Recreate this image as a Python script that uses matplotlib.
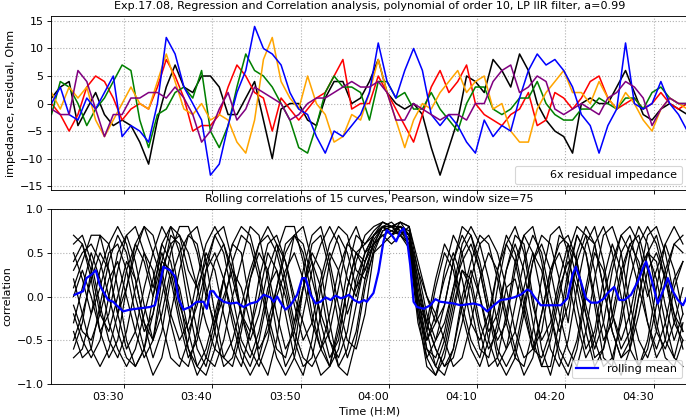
import pandas as pd
import numpy as np
import matplotlib
matplotlib.use('Agg')
import matplotlib.pyplot as plt
import matplotlib.dates as mdates
from matplotlib.lines import Line2D

# residual impedance, one value per minute, starting 03:21:48 (Ohm)
blue = [0, 3, -2, -3, 1, -1, 2, 5, -6, -4, -5, -7, 0, 12, 9, 3, 0, -3, -13,
        -11, -4, 2, 6, 14, 10, 9, 7, 2, -1, -2, -6, -9, -5, -6, -4, -2,
        2, 11, 4, 1, 6, 10, 6, -2, -4, -2, -4, -7, -9, -3, -6, -4, -5, 1,
        6, 9, 7, 8, 6, 3, -2, -4, -9, -4, -1, 11, 0, -1, 0, 4, 0, -2, -5]
black = [1, 3, 4, -4, -1, 2, -2, -4, -3, -4, -7, -11, -3, 3, 7, 3, 2, 5, 5,
         3, -2, -2, 1, 4, -3, -10, -1, 0, 0, -3, -4, 1, 4, 4, 0, 1,
         4, 8, 2, 0, -1, 0, -2, -8, -13, -8, -3, 5, 4, 2, 8, 6, 3, 9,
         6, 0, -3, -5, -6, -9, 0, 1, 0, 0, 3, 6, 2, -2, -3, -1, 0, -1, -2]
red = [0, -2, -5, -2, 3, 5, 4, 1, -3, -1, 0, -1, 3, 8, 5, 1, -5, -4, -4,
       -2, 3, 7, 5, 2, 1, -5, 1, -1, -3, -1, 1, 2, 5, 8, -1, 0,
       0, 5, 2, -1, -4, -7, -2, 3, 6, 2, 4, 7, 0, -2, -3, -4, -2, -1,
       2, -4, -3, 2, 1, -1, 1, 4, 5, 1, -1, 0, 1, -1, 0, 2, 0, -1, 0]
green = [-2, 4, 3, 0, -4, -1, 1, 4, 7, 6, -3, -8, -2, -1, 2, 3, 1, 6, -5,
         -8, -4, 3, 9, 6, 5, 3, 0, -3, -8, -9, -4, 2, 5, 3, 3, 2,
         -3, 4, 4, 1, 2, -1, -1, 2, -1, -3, -5, 0, 3, 3, -1, -2, -1, 1,
         1, 4, 0, -2, -3, -3, -1, -1, 1, 0, -1, 1, 1, -1, 2, 3, 1, 0, 0]
orange = [2, -1, 3, 1, 3, -3, -6, -3, 0, 3, 0, -1, 4, 9, 4, -1, -2, 0, -3,
          -2, -3, -7, -9, -3, 8, 12, 4, 1, -1, 5, 0, -2, -7, -6, -2, -3,
          2, 8, 2, -3, -8, -3, 0, -1, 2, 4, 6, 2, 4, 5, -1, 0, -5, -7,
          -7, -1, 2, 4, 6, 2, 2, 0, 4, 1, -1, 2, 0, -3, -5, -1, 1, 0, -1]
purple = [-1, -2, -2, 6, 4, -1, -6, -2, -2, 1, 1, 2, 2, 1, 3, 1, -2, -7, -5,
          -1, 2, -3, -1, 3, 2, 1, 0, -3, -2, 0, 1, 1, 2, 3, 4, 3,
          3, 4, 2, -3, -3, 0, -1, -2, -3, -2, -2, -3, 0, 0, 4, 6, 7, 2,
          3, 5, 4, -1, -2, -1, 0, -1, -2, 1, 2, 4, 3, 1, -4, -1, 1, 0, 0]

# rolling correlations, one value per minute, starting 03:24:18
corr = [
    [0.7, 0.6, 0.2, -0.4, -0.7, -0.5, 0.1, 0.6, 0.8, 0.5, 0.2, -0.3, -0.7, -0.8, -0.4, 0.3, 0.7, 0.8, 0.4, -0.2, -0.6, -0.8, -0.5, 0.1, 0.6, 0.7, 0.5, 0.0, -0.5, -0.8, -0.6, -0.1, 0.4, 0.7, 0.8, 0.85, 0.8, 0.75, 0.6, -0.1, -0.6, -0.8, -0.5, 0.0, 0.5, 0.7, 0.4, -0.1, -0.6, -0.8, -0.6, -0.1, 0.4, 0.7, 0.6, 0.2, -0.3, 0.5, 0.8, 0.6, 0.1, -0.4, -0.7, -0.5, 0.0, 0.5, 0.7, 0.3, -0.2, -0.6],
    [-0.6, -0.3, 0.3, 0.7, 0.6, 0.1, -0.5, -0.8, -0.6, 0.0, 0.6, 0.8, 0.5, -0.1, -0.6, -0.8, -0.4, 0.2, 0.6, 0.5, -0.1, -0.7, -0.9, -0.5, 0.2, 0.7, 0.8, 0.4, -0.3, -0.7, -0.5, 0.1, 0.5, 0.3, 0.6, 0.8, 0.7, 0.85, 0.7, 0.0, -0.5, -0.3, 0.3, 0.7, 0.5, -0.1, -0.6, -0.7, -0.3, 0.3, 0.7, 0.6, 0.0, -0.6, -0.9, -0.5, 0.2, 0.7, 0.5, -0.1, -0.7, -0.8, -0.2, 0.5, 0.8, 0.6, 0.0, -0.5, -0.7, -0.3],
    [0.3, 0.5, 0.6, 0.4, 0.0, -0.4, -0.7, -0.8, -0.6, -0.2, 0.3, 0.6, 0.7, 0.5, 0.1, -0.3, -0.6, -0.7, -0.5, -0.1, 0.3, 0.6, 0.7, 0.5, 0.1, -0.4, -0.7, -0.8, -0.6, -0.2, 0.3, 0.6, 0.5, 0.4, 0.7, 0.8, 0.75, 0.8, 0.7, 0.2, -0.3, -0.6, -0.8, -0.7, -0.3, 0.2, 0.6, 0.7, 0.5, 0.1, -0.4, -0.7, -0.6, -0.2, 0.3, 0.6, 0.7, 0.4, -0.1, -0.5, -0.8, -0.7, -0.3, 0.2, 0.6, 0.8, 0.6, 0.2, -0.3, -0.5],
    [-0.2, -0.5, -0.7, -0.5, 0.0, 0.5, 0.7, 0.4, -0.1, -0.5, 0.2, 0.7, 0.6, 0.1, -0.4, -0.7, -0.8, -0.5, 0.0, 0.4, 0.8, 0.7, 0.2, -0.4, -0.8, -0.6, 0.1, 0.6, 0.7, 0.3, -0.3, -0.7, -0.4, 0.2, 0.65, 0.8, 0.7, 0.8, 0.75, 0.1, -0.4, 0.1, 0.5, 0.3, -0.2, -0.6, -0.8, -0.5, 0.1, 0.6, 0.8, 0.5, -0.1, -0.5, -0.3, 0.2, 0.6, 0.4, -0.2, -0.7, -0.6, 0.0, 0.5, 0.7, 0.3, -0.3, -0.7, -0.5, 0.1, 0.4],
    [0.5, 0.2, -0.2, 0.1, 0.5, 0.6, 0.3, -0.2, -0.6, -0.9, -0.7, -0.2, 0.3, 0.7, 0.8, 0.4, -0.2, -0.7, -0.8, -0.4, 0.2, 0.5, 0.3, -0.2, -0.6, -0.4, 0.1, 0.5, 0.3, -0.3, -0.8, -0.9, -0.5, 0.1, 0.55, 0.75, 0.8, 0.7, 0.6, -0.2, -0.8, -0.9, -0.6, -0.1, 0.3, 0.1, -0.4, -0.8, -0.7, -0.2, 0.4, 0.7, 0.5, 0.0, -0.6, -0.8, -0.5, 0.1, 0.6, 0.8, 0.4, -0.2, -0.5, -0.2, 0.3, 0.5, 0.2, -0.3, -0.7, -0.8],
    [-0.7, -0.6, -0.2, 0.3, 0.6, 0.8, 0.6, 0.2, -0.3, -0.5, -0.2, 0.3, 0.1, -0.4, -0.8, -0.9, -0.6, -0.1, 0.4, 0.7, 0.6, 0.2, -0.3, -0.7, -0.9, -0.7, -0.2, 0.3, 0.6, 0.8, 0.6, 0.2, 0.0, 0.4, 0.7, 0.85, 0.8, 0.8, 0.65, -0.1, -0.3, -0.6, -0.8, -0.6, 0.0, 0.4, 0.7, 0.6, 0.2, -0.3, -0.7, -0.8, -0.4, 0.2, 0.7, 0.8, 0.5, -0.1, -0.6, -0.4, 0.2, 0.6, 0.3, -0.3, -0.8, -0.6, -0.1, 0.3, 0.6, 0.7],
    [0.1, 0.4, 0.7, 0.7, 0.3, -0.2, -0.6, -0.4, 0.1, 0.5, 0.8, 0.6, 0.0, -0.6, -0.8, -0.6, -0.2, 0.2, -0.2, -0.6, -0.8, -0.5, 0.0, 0.5, 0.8, 0.8, 0.4, -0.2, -0.6, -0.8, -0.4, 0.1, 0.5, 0.6, 0.7, 0.8, 0.85, 0.75, 0.7, 0.3, -0.2, -0.5, -0.3, 0.1, 0.4, 0.6, 0.3, -0.2, -0.7, -0.9, -0.7, -0.2, 0.4, 0.6, 0.3, -0.2, -0.6, -0.8, -0.4, 0.2, 0.7, 0.8, 0.5, -0.1, -0.5, -0.7, -0.4, 0.2, 0.6, 0.5],
    [-0.4, -0.7, -0.6, -0.1, 0.4, 0.7, 0.5, 0.0, -0.4, -0.2, 0.4, 0.8, 0.7, 0.3, 0.1, 0.4, 0.7, 0.5, 0.0, -0.5, -0.7, -0.4, 0.1, 0.3, 0.0, -0.5, -0.8, -0.7, -0.2, 0.4, 0.7, 0.5, 0.1, 0.3, 0.6, 0.7, 0.6, 0.7, 0.8, 0.0, -0.6, -0.7, -0.4, 0.1, 0.6, 0.8, 0.6, 0.2, -0.3, -0.6, -0.4, 0.1, 0.5, 0.3, -0.2, -0.7, -0.9, -0.6, 0.0, 0.5, 0.3, -0.2, -0.6, -0.4, 0.2, 0.7, 0.8, 0.5, 0.0, -0.4],
    [0.6, 0.7, 0.4, -0.1, -0.5, -0.7, -0.4, 0.1, 0.5, 0.3, -0.3, -0.7, -0.8, -0.5, 0.0, 0.5, 0.3, -0.2, -0.6, -0.8, -0.4, 0.2, 0.6, 0.7, 0.4, 0.0, -0.3, -0.6, -0.9, -0.8, -0.3, 0.3, 0.7, 0.6, 0.75, 0.85, 0.8, 0.85, 0.8, 0.4, 0.0, -0.3, -0.1, 0.4, 0.7, 0.5, 0.0, -0.4, -0.2, 0.3, 0.6, 0.3, -0.3, -0.8, -0.8, -0.3, 0.3, 0.7, 0.5, 0.0, -0.5, -0.3, 0.2, 0.6, 0.7, 0.3, -0.3, -0.7, -0.8, -0.5],
    [-0.5, -0.2, 0.2, 0.5, 0.3, -0.2, 0.1, 0.5, 0.8, 0.7, 0.3, -0.2, -0.5, -0.3, 0.2, 0.6, 0.8, 0.6, 0.2, -0.2, -0.5, -0.2, 0.3, 0.6, 0.4, -0.1, -0.5, -0.3, 0.2, 0.6, 0.8, 0.7, 0.3, 0.2, 0.5, 0.6, 0.7, 0.8, 0.7, 0.2, -0.4, -0.8, -0.9, -0.6, -0.1, 0.3, 0.0, -0.5, -0.8, -0.6, -0.1, 0.4, 0.7, 0.5, 0.0, -0.4, -0.1, 0.4, 0.7, 0.6, 0.1, -0.4, -0.7, -0.6, -0.2, 0.3, 0.5, 0.2, -0.2, -0.4],
    [0.2, -0.2, -0.6, -0.8, -0.6, -0.2, 0.3, 0.6, 0.4, 0.0, 0.4, 0.3, -0.2, -0.6, -0.9, -0.7, -0.3, 0.2, 0.6, 0.8, 0.7, 0.3, -0.2, -0.6, -0.7, -0.3, 0.3, 0.7, 0.8, 0.4, -0.1, -0.5, -0.6, -0.2, 0.5, 0.75, 0.8, 0.7, 0.55, -0.3, -0.7, -0.5, -0.1, 0.4, 0.8, 0.7, 0.3, -0.2, -0.5, -0.3, 0.3, 0.7, 0.8, 0.4, -0.2, -0.6, -0.8, -0.5, 0.1, 0.6, 0.8, 0.5, 0.0, -0.6, -0.8, -0.5, 0.1, 0.6, 0.8, 0.6],
    [-0.3, 0.1, 0.5, 0.2, -0.3, -0.6, -0.8, -0.6, -0.2, 0.2, 0.6, 0.4, -0.1, -0.4, -0.1, 0.3, 0.5, 0.2, -0.3, -0.7, -0.9, -0.7, -0.3, 0.1, 0.5, 0.7, 0.6, 0.2, -0.2, -0.5, -0.7, -0.4, 0.2, 0.5, 0.7, 0.8, 0.8, 0.85, 0.8, 0.3, 0.0, -0.2, -0.5, -0.8, -0.7, -0.3, 0.2, 0.5, 0.3, -0.2, -0.6, -0.9, -0.7, -0.2, 0.3, 0.5, 0.2, -0.3, -0.7, -0.5, 0.0, 0.4, 0.7, 0.8, 0.6, 0.1, -0.4, -0.6, -0.3, 0.1],
    [0.4, 0.6, 0.3, -0.2, -0.4, 0.0, 0.4, 0.2, -0.3, -0.7, -0.4, 0.2, 0.5, 0.7, 0.6, 0.1, -0.4, -0.8, -0.7, -0.3, 0.2, 0.6, 0.8, 0.6, 0.2, -0.3, 0.1, 0.4, 0.1, -0.5, -0.8, -0.6, -0.1, 0.4, 0.6, 0.7, 0.75, 0.7, 0.6, 0.0, -0.3, 0.2, 0.6, 0.4, -0.1, -0.5, -0.7, -0.3, 0.3, 0.7, 0.5, 0.0, -0.5, -0.8, -0.5, 0.0, 0.5, 0.8, 0.7, 0.3, -0.3, -0.7, -0.9, -0.6, 0.0, 0.5, 0.4, -0.1, -0.5, -0.2],
    [-0.1, -0.4, -0.5, -0.2, 0.2, 0.4, 0.0, -0.4, -0.7, -0.5, 0.0, 0.5, 0.8, 0.8, 0.5, 0.0, -0.3, 0.0, 0.3, 0.1, -0.3, -0.6, -0.4, 0.0, 0.3, 0.5, 0.2, -0.3, -0.6, -0.4, 0.1, 0.6, 0.8, 0.5, 0.6, 0.8, 0.7, 0.75, 0.65, -0.2, -0.5, -0.2, 0.2, 0.5, 0.2, -0.3, -0.5, -0.2, 0.3, 0.6, 0.4, -0.1, -0.6, -0.7, -0.4, 0.1, 0.4, 0.1, -0.4, -0.8, -0.6, -0.2, 0.3, 0.6, 0.4, 0.0, 0.3, 0.6, 0.3, -0.2],
    [0.0, 0.3, 0.0, -0.4, -0.2, 0.3, 0.7, 0.8, 0.5, 0.1, 0.5, 0.2, -0.3, -0.7, -0.5, 0.0, 0.4, 0.6, 0.3, -0.2, -0.4, 0.0, 0.5, 0.3, -0.2, -0.7, -0.9, -0.5, 0.1, 0.5, 0.3, -0.2, 0.1, 0.5, 0.7, 0.8, 0.8, 0.8, 0.7, -0.1, -0.7, -0.9, -0.7, -0.2, 0.3, 0.2, -0.3, -0.6, -0.4, 0.1, 0.2, -0.2, -0.6, -0.4, 0.2, 0.7, 0.6, 0.2, -0.2, -0.6, -0.3, 0.3, 0.7, 0.5, 0.1, -0.3, -0.6, -0.3, 0.2, 0.4],
]

# rolling mean: minutes after 03:30 and value
mean_min = [-5.57, -4.62, -4.24, -3.67, -3.18, -2.73, -2.35, -1.78, -1.21, -0.83, -0.08, 0.68, 1.44,
            2.20, 2.95, 3.52, 3.90, 4.47, 5.23, 5.80, 6.17, 6.74, 7.50, 8.26, 9.02, 9.39, 9.77,
            10.15, 10.53, 11.29, 12.05, 12.80, 13.56, 14.32, 15.08, 15.83, 16.59, 16.97, 17.35,
            17.92, 18.30, 18.86, 19.62, 20.19, 20.57, 21.14, 21.70, 22.27, 22.84, 23.41, 23.98,
            24.55, 24.92, 25.49, 26.06, 26.63, 27.20, 27.50, 28.26, 28.83, 29.39, 29.77, 30.34,
            30.83, 31.29, 31.67, 32.05, 32.42, 32.80, 33.18, 33.94, 34.70, 35.27, 35.83, 36.59,
            37.35, 38.11, 38.86, 39.62, 40.38, 41.14, 41.89, 42.65, 43.41, 44.17, 44.92, 45.68,
            46.06, 46.44, 47.20, 47.95, 48.71, 49.47, 50.23, 50.80, 51.17, 51.74, 52.31, 52.88,
            53.64, 54.39, 54.77, 55.53, 56.10, 56.67, 57.42, 58.18, 58.75, 59.13, 59.70, 60.45,
            61.02, 61.59, 62.16, 62.73, 63.30, 63.67]
mean_val = [0.02, 0.06, 0.21, 0.25, 0.30, 0.13, 0.06, -0.04, -0.06, -0.10, -0.17, -0.15, -0.14,
            -0.13, -0.12, -0.10, 0.06, 0.34, 0.30, 0.23, -0.02, -0.15, -0.12, -0.06, -0.06, -0.14, 0.06,
            0.06, 0.00, -0.06, -0.08, -0.07, -0.12, -0.08, -0.06, 0.02, -0.01, -0.06, 0.00,
            -0.10, -0.15, -0.10, 0.02, 0.21, 0.21, 0.02, -0.08, -0.06, -0.01, -0.04, 0.01,
            -0.02, -0.01, 0.02, -0.04, -0.07, -0.04, -0.06, 0.04, 0.28, 0.63, 0.76, 0.70,
            0.63, 0.74, 0.78, 0.66, 0.36, -0.06, -0.12, -0.14, -0.10, -0.03, -0.06, -0.07,
            -0.08, -0.10, -0.09, -0.08, -0.10, -0.17, -0.10, -0.04, -0.03, -0.01, 0.02, 0.08,
            0.06, 0.00, -0.10, -0.10, -0.10, -0.10, -0.02, 0.25, 0.34, 0.17, -0.02, -0.07,
            -0.07, -0.02, 0.04, 0.11, -0.04, -0.04, 0.02, 0.17, 0.32, 0.40, 0.21, -0.08,
            0.06, 0.21, 0.06, -0.04, -0.10, -0.02]

series = [('black', black), ('red', red), ('green', green),
          ('orange', orange), ('blue', blue), ('purple', purple)]

start = pd.Timestamp('2021-08-17 03:21:48')
corr_start = pd.Timestamp('2021-08-17 03:24:18')
ref = pd.Timestamp('2021-08-17 03:30:00')
end = start + pd.Timedelta(minutes=72)

# drawn at 80 dpi so the default sizes match the original
fig = plt.figure(figsize=(8.575, 5.225), dpi=80)
ax1 = fig.add_axes([0.075, 0.5455, 0.927, 0.4162])
ax2 = fig.add_axes([0.075, 0.0813, 0.927, 0.4187], sharex=ax1)

for color, vals in series:
    t = start + pd.to_timedelta(np.arange(len(vals)), unit='min')
    ax1.plot(t, vals, color=color, lw=1.4)
ax1.set_ylim(-15.7, 15.9)
ax1.set_yticks([-15, -10, -5, 0, 5, 10, 15])
ax1.set_ylabel('impedance, residual, Ohm')
ax1.set_title('Exp.17.08, Regression and Correlation analysis, polynomial of order 10, LP IIR filter, a=0.99',
              fontsize=10)
ax1.legend([Line2D([], [], color='none')], ['6x residual impedance'], loc='lower right')
ax1.tick_params(labelbottom=False)
ax1.grid(True, color='#b0b0b0', linestyle=':', linewidth=1.0)

for c in corr:
    t = corr_start + pd.to_timedelta(np.arange(len(c)), unit='min')
    ax2.plot(t, c, color='black', lw=1.1)
tm = ref + pd.to_timedelta(mean_min, unit='min')
ax2.plot(tm, mean_val, color='blue', lw=2.0, label='rolling mean')
ax2.set_ylim(-1, 1)
ax2.set_yticks([-1.0, -0.5, 0.0, 0.5, 1.0])
ax2.set_ylabel('correlation')
ax2.set_xlabel('Time (H:M)')
ax2.set_title('Rolling correlations of 15 curves, Pearson, window size=75', fontsize=10)
ax2.legend(loc='lower right')
ax2.grid(True, color='#b0b0b0', linestyle=':', linewidth=1.0)

ax2.set_xlim(start, end)
ax2.xaxis.set_major_locator(mdates.MinuteLocator(byminute=[0, 10, 20, 30, 40, 50]))
ax2.xaxis.set_major_formatter(mdates.DateFormatter('%H:%M'))
plt.setp(ax2.get_xticklabels(), ha='right')

fig.savefig('out.png', dpi=80)
